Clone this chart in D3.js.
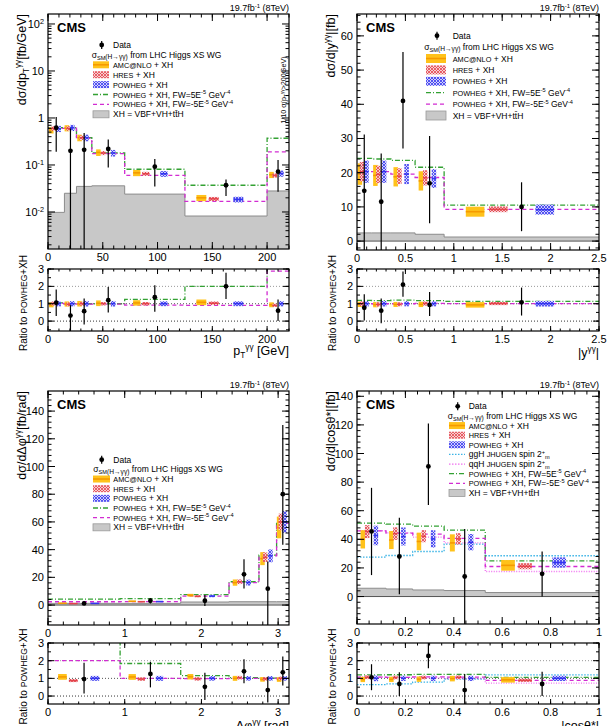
<!DOCTYPE html>
<html>
<head>
<meta charset="utf-8">
<script src="https://cdn.jsdelivr.net/npm/d3@7"></script>
<style>
  body { margin: 0; background: #fff; }
  svg { display: block; font-family: "Liberation Sans", Arial, sans-serif; }
</style>
</head>
<body>
<svg id="chart" width="612" height="726"></svg>
<script>
// ---- data: diphoton pT ----
const ptEdges = [0, 15, 26, 40, 70, 125, 200, 220];
const ptData = [0.62, 0.20, 0.21, 0.22, 0.092, 0.037, 0.072];
const ptDataLow = [0.19, 0, 0, 0.088, 0.035, 0.022, 0.027];
const ptDataHigh = [1.05, 0.6, 0.48, 0.35, 0.134, 0.049, 0.128];
const ptRatio = [1.06, 0.32, 0.57, 1.2, 1.38, 2.0, 0.6];
const ptRatioLow = [0.3, -0.6, -0.2, 0.49, 0.54, 1.27, 0.0];
const ptRatioHigh = [1.82, 0.92, 1.3, 1.97, 2.06, 2.78, 1.25];
const ptAmc = [0.55, 0.61, 0.38, 0.185, 0.068, 0.020, 0.062];
const ptHres = [0.60, 0.60, 0.38, 0.18, 0.065, 0.019, 0.060];
const ptPowheg = [0.59, 0.62, 0.38, 0.18, 0.065, 0.0185, 0.066];
const ptAmcUnc = [0.15, 0.15, 0.16, 0.16, 0.15, 0.15, 0.15];
const ptHresUnc = [0.11, 0.11, 0.11, 0.10, 0.10, 0.10, 0.10];
const ptPowhegUnc = [0.15, 0.15, 0.16, 0.16, 0.14, 0.14, 0.15];
const ptFwPlus = [0.62, 0.62, 0.38, 0.18, 0.081, 0.037, 0.37];
const ptFwMinus = [0.60, 0.61, 0.37, 0.175, 0.060, 0.0168, 0.19];
const ptXH = [0.0098, 0.025, 0.035, 0.036, 0.024, 0.0082, 0.028];

// ---- data: diphoton |y| ----
const yEdges = [0, 0.15, 0.35, 0.6, 0.9, 2.5];
const yData = [14.7, 11.5, 41.0, 16.9, 10.0];
const yDataLow = [-5, -5, 27.1, 5.2, 2.9];
const yDataHigh = [31.2, 25.6, 55.3, 30.7, 17.2];
const yRatio = [0.77, 0.6, 2.1, 0.93, 1.08];
const yRatioLow = [0.03, -0.12, 1.4, 0.3, 0.32];
const yRatioHigh = [1.55, 1.3, 2.86, 1.68, 1.93];
const yAmc = [19.6, 19.2, 18.8, 17.6, 8.6];
const yHres = [20.3, 19.5, 19.0, 18.5, 9.3];
const yPowheg = [20.3, 20.3, 19.6, 18.3, 9.2];
const yAmcUnc = [0.16, 0.16, 0.15, 0.16, 0.17];
const yHresUnc = [0.14, 0.13, 0.12, 0.12, 0.09];
const yPowhegUnc = [0.16, 0.16, 0.15, 0.15, 0.16];
const yFwPlus = [24.2, 24.0, 23.6, 21.6, 10.5];
const yFwMinus = [20.3, 20.3, 19.6, 18.6, 9.3];
const yXH = [2.4, 2.4, 2.4, 2.0, 1.2];

// ---- data: diphoton delta phi ----
const dphiEdges = [0, 0.94, 1.73, 2.36, 2.75, 2.98, 3.1416];
const dphiData = [1.2, 3.1, 3.1, 22.2, 11.8, 80];
const dphiDataLow = [0.2, 1.2, -0.7, 12.0, -20, 43.5];
const dphiDataHigh = [2.3, 5.0, 7.2, 33.0, 31.4, 130];
const dphiRatio = [0.96, 1.25, 0.52, 1.4, 0.34, 1.34];
const dphiRatioLow = [0.15, 0.49, -0.23, 0.72, -0.36, 0.6];
const dphiRatioHigh = [1.89, 1.94, 1.32, 2.08, 1.09, 2.23];
const dphiAmc = [1.3, 2.7, 7.1, 16.2, 33.5, 56];
const dphiHres = [1.05, 2.4, 6.3, 16.8, 34.5, 60];
const dphiPowheg = [1.2, 2.5, 6.5, 16.2, 35.5, 60];
const dphiAmcUnc = [0.15, 0.15, 0.14, 0.14, 0.14, 0.14];
const dphiHresUnc = [0.1, 0.1, 0.1, 0.1, 0.1, 0.1];
const dphiPowhegUnc = [0.14, 0.14, 0.13, 0.13, 0.13, 0.13];
const dphiFwPlus = [4.3, 4.6, 7.5, 16.8, 36.0, 60];
const dphiFwMinus = [2.4, 2.5, 6.4, 16.2, 35.5, 59];
const dphiXH = [1.2, 1.2, 2.2, 2.4, 2.4, 2.4];

// ---- data: |cos theta*| ----
const cosEdges = [0, 0.12, 0.23, 0.36, 0.53, 1.0];
const cosData = [45.5, 28, 91, 14, 15.9];
const cosDataLow = [15, 1.6, 64, -25, 0];
const cosDataHigh = [76, 55, 121, 47.3, 31.5];
const cosRatio = [1.06, 0.68, 2.27, 0.34, 0.68];
const cosRatioLow = [0.33, 0.0, 1.57, -0.6, 0.0];
const cosRatioHigh = [1.8, 1.34, 3.0, 1.25, 1.38];
const cosAmc = [40.0, 39.5, 38.5, 37.5, 21.8];
const cosHres = [45.4, 44.0, 42.2, 40.3, 21.2];
const cosPowheg = [42.7, 42.0, 40.3, 38.0, 23.8];
const cosAmcUnc = [0.16, 0.16, 0.16, 0.16, 0.17];
const cosHresUnc = [0.10, 0.10, 0.10, 0.10, 0.10];
const cosPowhegUnc = [0.16, 0.15, 0.15, 0.15, 0.15];
const cosFwPlus = [51.3, 50.6, 49.2, 46.4, 25.0];
const cosFwMinus = [45.9, 44.3, 43.6, 40.6, 21.0];
const cosGgSpin2 = [27.5, 28.7, 31.5, 36.6, 28.5];
const cosQqSpin2 = [46.0, 44.5, 41.5, 37.5, 17.5];
const cosXH = [5.8, 5.3, 4.6, 4.2, 2.8];

const LUMI = [["19.7fb"], ["-1", "sup"], [" (8TeV)"]];

const COLORS = {
  amc: "#ffc21a", amcLine: "#f59a00",
  hres: "#e4434b", powheg: "#3434f0",
  fwPlus: "#33a133", fwMinus: "#d22cd2",
  ggH: "#3cb4e6", qqH: "#f070f0",
  xhFill: "#c8c8c8", xhLine: "#8c8c8c"
};

// position of each model inside a bin, as fraction of the bin width
const SLOT = { amc: 0.2, hres: 0.35, data: 0.5, powheg: 0.65 };

// append text pieces: plain, "sup", "sub", "subn" (small lowered) or "sc" (small caps look)
function rich(text, parts, base) {
  let shift = 0;
  parts.forEach(part => {
    const [str, kind] = part;
    const target = kind === "sup" ? -base * 0.38 : kind === "sub" ? base * 0.24
      : kind === "subn" ? base * 0.16 : 0;
    const size = kind === "sup" || kind === "sub" ? base * 0.66
      : kind === "subn" ? base * 0.78 : kind === "sc" ? base * 0.86 : base;
    text.append("tspan").attr("dy", target - shift).attr("font-size", size).text(str);
    shift = target;
  });
  return text;
}

function addHatch(defs, id, color, bg) {
  const p = defs.append("pattern").attr("id", id)
    .attr("patternUnits", "userSpaceOnUse").attr("width", 3).attr("height", 3);
  p.append("rect").attr("width", 3).attr("height", 3).attr("fill", bg);
  p.append("path").attr("d", "M0,0L3,3M3,0L0,3")
    .attr("stroke", color).attr("stroke-width", 0.8);
}

function stepPoints(edges, values) {
  const pts = [];
  values.forEach((v, i) => { pts.push([edges[i], v]); pts.push([edges[i + 1], v]); });
  return pts;
}

function drawContent(g, x, y, p, isRatio) {
  const lo = y.domain()[0];
  const fix = v => (p.log && !isRatio ? Math.max(v, lo) : v);
  const rel = (arr, i) => (isRatio ? arr[i] / p.powheg[i] : arr[i]);

  if (!isRatio) {
    const area = d3.area().x(d => x(d[0])).y0(y(p.log ? lo : 0)).y1(d => y(d[1]));
    const pts = stepPoints(p.edges, p.xh);
    g.append("path").attr("d", area(pts)).attr("fill", COLORS.xhFill);
    g.append("path").attr("d", d3.line().x(d => x(d[0])).y(d => y(d[1]))(pts))
      .attr("fill", "none").attr("stroke", COLORS.xhLine).attr("stroke-width", 1);
    if (!p.log) {
      g.append("line").attr("x1", x(p.edges[0])).attr("x2", x(p.edges[p.edges.length - 1]))
        .attr("y1", y(0)).attr("y2", y(0)).attr("stroke", "#555").attr("stroke-width", 1);
    }
  } else {
    [[0, "#333"], [1, "#555"], [2, "#999"]].forEach(([v, c]) => {
      g.append("line").attr("x1", x.range()[0]).attr("x2", x.range()[1])
        .attr("y1", y(v)).attr("y2", y(v))
        .attr("stroke", c).attr("stroke-width", 1).attr("stroke-dasharray", "1,2");
    });
  }

  const line = d3.line().x(d => x(d[0])).y(d => y(fix(d[1])));
  p.lines.forEach(l => {
    const vals = l.values.map((v, i) => rel(l.values, i));
    g.append("path").attr("d", line(stepPoints(p.edges, vals)))
      .attr("fill", "none").attr("stroke", l.color).attr("stroke-width", 1.3)
      .attr("stroke-dasharray", l.dash);
  });

  const models = [
    { key: "amc", vals: p.amc, unc: p.amcUnc, fill: COLORS.amc, line: COLORS.amcLine },
    { key: "hres", vals: p.hres, unc: p.hresUnc, fill: "url(#hatchRed)", line: COLORS.hres },
    { key: "powheg", vals: p.powheg, unc: p.powhegUnc, fill: "url(#hatchBlue)", line: COLORS.powheg }
  ];
  models.forEach(m => {
    m.vals.forEach((v, i) => {
      const e0 = p.edges[i], e1 = p.edges[i + 1];
      const cx = x(e0 + (e1 - e0) * SLOT[m.key]);
      const w = Math.max((x(e1) - x(e0)) * 0.12, 4.5);
      const c = rel(m.vals, i);
      const top = y(fix(c * (1 + m.unc[i]))), bot = y(fix(c * (1 - m.unc[i])));
      g.append("rect").attr("x", cx - w / 2).attr("y", top)
        .attr("width", w).attr("height", bot - top).attr("fill", m.fill);
      g.append("line").attr("x1", cx - w / 2).attr("x2", cx + w / 2)
        .attr("y1", y(fix(c))).attr("y2", y(fix(c)))
        .attr("stroke", m.line).attr("stroke-width", 1.6);
    });
  });

  const dv = isRatio ? p.ratio : p.data;
  const dl = isRatio ? p.ratioLow : p.dataLow;
  const dh = isRatio ? p.ratioHigh : p.dataHigh;
  dv.forEach((v, i) => {
    const cx = x(p.edges[i] + (p.edges[i + 1] - p.edges[i]) * SLOT.data);
    g.append("line").attr("x1", cx).attr("x2", cx)
      .attr("y1", y(fix(dl[i]))).attr("y2", y(fix(dh[i])))
      .attr("stroke", "#000").attr("stroke-width", 1.2);
    g.append("circle").attr("cx", cx).attr("cy", y(fix(v))).attr("r", 2.4).attr("fill", "#000");
  });
}

function tickSet(domain, step) {
  const out = [];
  const start = Math.ceil(domain[0] / step - 1e-9);
  for (let k = start; k * step <= domain[1] + 1e-9; k++) out.push(+(k * step).toFixed(6));
  return out;
}

function logTicks(domain) {
  const major = [], minor = [];
  for (let e = Math.floor(Math.log10(domain[0])); e <= Math.ceil(Math.log10(domain[1])); e++) {
    for (let m = 1; m < 10; m++) {
      const v = m * Math.pow(10, e);
      if (v < domain[0] || v > domain[1]) continue;
      (m === 1 ? major : minor).push(v);
    }
  }
  return { major, minor };
}

function drawFrame(g, x, y, xt, yt, major, minor, xMaj, xMin) {
  const [x0, x1] = x.range();
  const [y1, y0] = y.range();
  const tick = (x1_, y1_, x2_, y2_) => g.append("line")
    .attr("x1", x1_).attr("y1", y1_).attr("x2", x2_).attr("y2", y2_)
    .attr("stroke", "#000").attr("stroke-width", 1);
  xt.major.forEach(v => { const X = x(v); tick(X, y1, X, y1 - xMaj); tick(X, y0, X, y0 + xMaj); });
  xt.minor.forEach(v => { const X = x(v); tick(X, y1, X, y1 - xMin); tick(X, y0, X, y0 + xMin); });
  yt.major.forEach(v => { const Y = y(v); tick(x0, Y, x0 + major, Y); tick(x1, Y, x1 - major, Y); });
  yt.minor.forEach(v => { const Y = y(v); tick(x0, Y, x0 + minor, Y); tick(x1, Y, x1 - minor, Y); });
  g.append("rect").attr("x", x0).attr("y", y0).attr("width", x1 - x0).attr("height", y1 - y0)
    .attr("fill", "none").attr("stroke", "#000").attr("stroke-width", 1.2);
}

function xLabels(g, x, yBase, values, fmt) {
  values.forEach(v => {
    g.append("text").attr("x", x(v)).attr("y", yBase).attr("text-anchor", "middle")
      .attr("font-size", 11).text(fmt(v));
  });
}

function drawLegend(g, L) {
  const FS = 8.5;
  L.rows.forEach(row => {
    const yc = row.y;
    const t = g.append("text").attr("x", L.textX).attr("y", yc + 3).attr("font-size", FS);
    const box = (fill, lineColor) => {
      g.append("rect").attr("x", L.sym[0]).attr("y", yc - L.boxH / 2)
        .attr("width", L.sym[1] - L.sym[0]).attr("height", L.boxH)
        .attr("fill", fill).attr("stroke", lineColor || "none").attr("stroke-width", 0.8);
    };
    const seg = (color, dash) => g.append("line").attr("x1", L.sym[0]).attr("x2", L.sym[1])
      .attr("y1", yc).attr("y2", yc).attr("stroke", color).attr("stroke-width", 1.3)
      .attr("stroke-dasharray", dash);
    if (row.kind === "data") {
      g.append("line").attr("x1", L.dataX).attr("x2", L.dataX).attr("y1", yc - 4).attr("y2", yc + 4)
        .attr("stroke", "#000").attr("stroke-width", 1.2);
      g.append("circle").attr("cx", L.dataX).attr("cy", yc).attr("r", 2.4).attr("fill", "#000");
      rich(t, [["Data"]], FS);
    } else if (row.kind === "sigma") {
      t.attr("x", L.sigmaX);
      rich(t, [["σ"], ["SM", "sub"], ["(H→γγ)", "subn"], [" from LHC Higgs XS WG"]], FS);
    } else if (row.kind === "amc") {
      box(COLORS.amc);
      g.append("line").attr("x1", L.sym[0]).attr("x2", L.sym[1]).attr("y1", yc).attr("y2", yc)
        .attr("stroke", COLORS.amcLine).attr("stroke-width", 1.6);
      rich(t, [["AMC@NLO", "sc"], [" + XH"]], FS);
    } else if (row.kind === "hres") {
      box("url(#hatchRed)");
      rich(t, [["HRES", "sc"], [" + XH"]], FS);
    } else if (row.kind === "powheg") {
      box("url(#hatchBlue)");
      rich(t, [["POWHEG", "sc"], [" + XH"]], FS);
    } else if (row.kind === "ggH" || row.kind === "qqH") {
      seg(row.kind === "ggH" ? COLORS.ggH : COLORS.qqH, "1.5,1.5");
      rich(t, [[row.kind + " "], ["JHUGEN", "sc"], [" spin 2"], ["+", "sup"], ["m", "sub"]], FS);
    } else if (row.kind === "fwPlus" || row.kind === "fwMinus") {
      const plus = row.kind === "fwPlus";
      seg(plus ? COLORS.fwPlus : COLORS.fwMinus, plus ? "5,2,1,2" : "4,3");
      rich(t, [["POWHEG", "sc"], [plus ? " + XH, FW=5E" : " + XH, FW=-5E"], ["-5", "sup"],
        [" GeV"], ["-4", "sup"]], FS);
    } else if (row.kind === "xh") {
      box(COLORS.xhFill, "#999");
      rich(t, [["XH = VBF+VH+t"], ["t\u0304"], ["H"]], FS);
    }
  });
}

function legendRows(kinds, y0, step) {
  return kinds.map((kind, i) => ({ kind, y: y0 + i * step }));
}

const BASIC = ["data", "sigma", "amc", "hres", "powheg", "fwPlus", "fwMinus", "xh"];
const WITH_SPIN = ["data", "sigma", "amc", "hres", "powheg", "ggH", "qqH", "fwPlus", "fwMinus", "xh"];

const fwLines = (plus, minus) => [
  { values: plus, color: COLORS.fwPlus, dash: "5,2,1,2" },
  { values: minus, color: COLORS.fwMinus, dash: "4,3" }
];

const PANELS = [
  {
    x0: 48, x1: 289, y0: 14, y1: 249, ry0: 269, ry1: 331,
    log: true, xDomain: [0, 220], yDomain: [0.00163, 163], rDomain: [-0.57, 3],
    xMajor: 50, xMinor: 10, yMajor: null, yMinor: null,
    edges: ptEdges, data: ptData, dataLow: ptDataLow, dataHigh: ptDataHigh,
    ratio: ptRatio, ratioLow: ptRatioLow, ratioHigh: ptRatioHigh,
    amc: ptAmc, hres: ptHres, powheg: ptPowheg,
    amcUnc: ptAmcUnc, hresUnc: ptHresUnc, powhegUnc: ptPowhegUnc,
    lines: fwLines(ptFwPlus, ptFwMinus), xh: ptXH,
    yTitle: [["dσ/dp"], ["T", "sub"], ["γγ", "sup"], ["[fb/GeV]"]],
    xTitle: [["p"], ["T", "sub"], ["γγ", "sup"], [" [GeV]"]],
    xTitleY: 355, titleX: 26,
    legend: { sym: [93, 109], boxH: 7, textX: 113, dataX: 101.7, sigmaX: 91.7,
      rows: legendRows(BASIC, 45, 9.9) }
  },
  {
    x0: 357, x1: 599, y0: 14, y1: 250, ry0: 269, ry1: 331,
    log: false, xDomain: [0, 2.5], yDomain: [-2.6, 66.4], rDomain: [-0.57, 3],
    xMajor: 0.5, xMinor: 0.1, yMajor: 10, yMinor: 2,
    edges: yEdges, data: yData, dataLow: yDataLow, dataHigh: yDataHigh,
    ratio: yRatio, ratioLow: yRatioLow, ratioHigh: yRatioHigh,
    amc: yAmc, hres: yHres, powheg: yPowheg,
    amcUnc: yAmcUnc, hresUnc: yHresUnc, powhegUnc: yPowhegUnc,
    lines: fwLines(yFwPlus, yFwMinus), xh: yXH,
    yTitle: [["dσ/d|y"], ["γγ", "sup"], ["|[fb]"]],
    xTitle: [["|y"], ["γγ", "sup"], ["|"]],
    xTitleY: 357, titleX: 335,
    legend: { sym: [426, 446], boxH: 9, textX: 452.7, dataX: 437, sigmaX: 424.3,
      rows: legendRows(BASIC, 35.7, 11.4) }
  },
  {
    x0: 48, x1: 289, y0: 391, y1: 625, ry0: 643, ry1: 704,
    log: false, xDomain: [0, 3.1416], yDomain: [-14.4, 154.5], rDomain: [-0.45, 3],
    xMajor: 1, xMinor: 0.2, yMajor: 20, yMinor: 4,
    edges: dphiEdges, data: dphiData, dataLow: dphiDataLow, dataHigh: dphiDataHigh,
    ratio: dphiRatio, ratioLow: dphiRatioLow, ratioHigh: dphiRatioHigh,
    amc: dphiAmc, hres: dphiHres, powheg: dphiPowheg,
    amcUnc: dphiAmcUnc, hresUnc: dphiHresUnc, powhegUnc: dphiPowhegUnc,
    lines: fwLines(dphiFwPlus, dphiFwMinus), xh: dphiXH,
    yTitle: [["dσ/dΔφ"], ["γγ", "sup"], ["[fb/rad]"]],
    xTitle: [["Δφ"], ["γγ", "sup"], [" [rad]"]],
    xTitleY: 730, titleX: 26,
    legend: { sym: [93, 110], boxH: 7, textX: 113.3, dataX: 101.7, sigmaX: 93.3,
      rows: legendRows(BASIC, 459.7, 9.66) }
  },
  {
    x0: 357, x1: 599, y0: 391, y1: 624, ry0: 643, ry1: 704,
    log: false, xDomain: [0, 1], yDomain: [-19.2, 143.7], rDomain: [-0.45, 3],
    xMajor: 0.2, xMinor: 0.05, yMajor: 20, yMinor: 4,
    edges: cosEdges, data: cosData, dataLow: cosDataLow, dataHigh: cosDataHigh,
    ratio: cosRatio, ratioLow: cosRatioLow, ratioHigh: cosRatioHigh,
    amc: cosAmc, hres: cosHres, powheg: cosPowheg,
    amcUnc: cosAmcUnc, hresUnc: cosHresUnc, powhegUnc: cosPowhegUnc,
    lines: [
      { values: cosGgSpin2, color: COLORS.ggH, dash: "1.5,1.5" },
      { values: cosQqSpin2, color: COLORS.qqH, dash: "1,1.5" },
      ...fwLines(cosFwPlus, cosFwMinus)
    ],
    xh: cosXH,
    yTitle: [["dσ/d|cosθ*|[fb]"]],
    xTitle: [["|cosθ*|"]],
    xTitleY: 730, titleX: 335,
    legend: { sym: [449, 465], boxH: 7, textX: 468.7, dataX: 457.7, sigmaX: 447.7,
      rows: legendRows(WITH_SPIN, 406.3, 9.63) }
  }
];

function drawPanel(svg, p, idx) {
  const g = svg.append("g");
  const x = d3.scaleLinear().domain(p.xDomain).range([p.x0, p.x1]);
  const y = (p.log ? d3.scaleLog() : d3.scaleLinear()).domain(p.yDomain).range([p.y1, p.y0]);
  const r = d3.scaleLinear().domain(p.rDomain).range([p.ry1, p.ry0]);

  const defs = svg.select("defs");
  [["m", p.y0, p.y1], ["r", p.ry0, p.ry1]].forEach(([k, a, b]) => {
    defs.append("clipPath").attr("id", `clip${k}${idx}`)
      .append("rect").attr("x", p.x0).attr("y", a).attr("width", p.x1 - p.x0).attr("height", b - a);
  });

  drawContent(g.append("g").attr("clip-path", `url(#clipm${idx})`), x, y, p, false);
  drawContent(g.append("g").attr("clip-path", `url(#clipr${idx})`), x, r, p, true);

  const xt = { major: tickSet(p.xDomain, p.xMajor), minor: tickSet(p.xDomain, p.xMinor) };
  const yt = p.log ? logTicks(p.yDomain)
    : { major: tickSet(p.yDomain, p.yMajor), minor: tickSet(p.yDomain, p.yMinor) };
  const rt = { major: tickSet(p.rDomain, 1), minor: tickSet(p.rDomain, 0.5) };
  drawFrame(g, x, y, xt, yt, 7, 3.5, 7, 3.5);
  drawFrame(g, x, r, xt, rt, 6, 3, 5, 2.5);

  const fmt = v => String(+v.toFixed(2));
  xLabels(g, x, p.y1 + 12, xt.major, fmt);
  xLabels(g, x, p.ry1 + 11.5, xt.major, fmt);

  yt.major.forEach(v => {
    const t = g.append("text").attr("x", p.x0 - 4).attr("y", y(v) + 4)
      .attr("text-anchor", "end").attr("font-size", 11);
    if (p.log) {
      const e = Math.round(Math.log10(v));
      if (e === 0) t.text("1");
      else if (e === 1) t.text("10");
      else rich(t, [["10"], [String(e), "sup"]], 11);
    } else {
      t.text(fmt(v));
    }
  });
  rt.major.forEach(v => {
    g.append("text").attr("x", p.x0 - 4).attr("y", r(v) + 4)
      .attr("text-anchor", "end").attr("font-size", 11).text(fmt(v));
  });

  // axis titles
  rich(g.append("text").attr("text-anchor", "end").attr("font-size", 12.5)
    .attr("transform", `translate(${p.titleX},${p.y0}) rotate(-90)`), p.yTitle, 12.5);
  rich(g.append("text").attr("text-anchor", "middle").attr("font-size", 10)
    .attr("transform", `translate(${p.titleX + 1},${(p.ry0 + p.ry1) / 2 + 3}) rotate(-90)`),
    [["Ratio to "], ["POWHEG", "sc"], ["+XH"]], 10);
  rich(g.append("text").attr("x", p.x1).attr("y", p.xTitleY)
    .attr("text-anchor", "end").attr("font-size", 12.5), p.xTitle, 12.5);

  g.append("text").attr("x", p.x0 + 9).attr("y", p.y0 + 18)
    .attr("font-size", 13).attr("font-weight", "bold").text("CMS");
  rich(g.append("text").attr("x", p.x1).attr("y", p.y0 - 3)
    .attr("text-anchor", "end").attr("font-size", 9), LUMI, 9);

  drawLegend(g, p.legend);
  return { x, y };
}

const svg = d3.select("#chart");
const defs = svg.append("defs");
addHatch(defs, "hatchRed", COLORS.hres, "#f6d0d2");
addHatch(defs, "hatchBlue", COLORS.powheg, "#d2d2fa");

const scales = PANELS.map((p, i) => drawPanel(svg, p, i));

// note for the overflow bin of the pT panel
rich(svg.append("text").attr("font-size", 7.2)
  .attr("transform", `translate(${scales[0].x(217.5)},${scales[0].y(0.75)}) rotate(-90)`),
  [["1/10 σ(p"], ["T", "sub"], ["γγ", "sup"], [">200GeV)"]], 7.2);
</script>
</body>
</html>
